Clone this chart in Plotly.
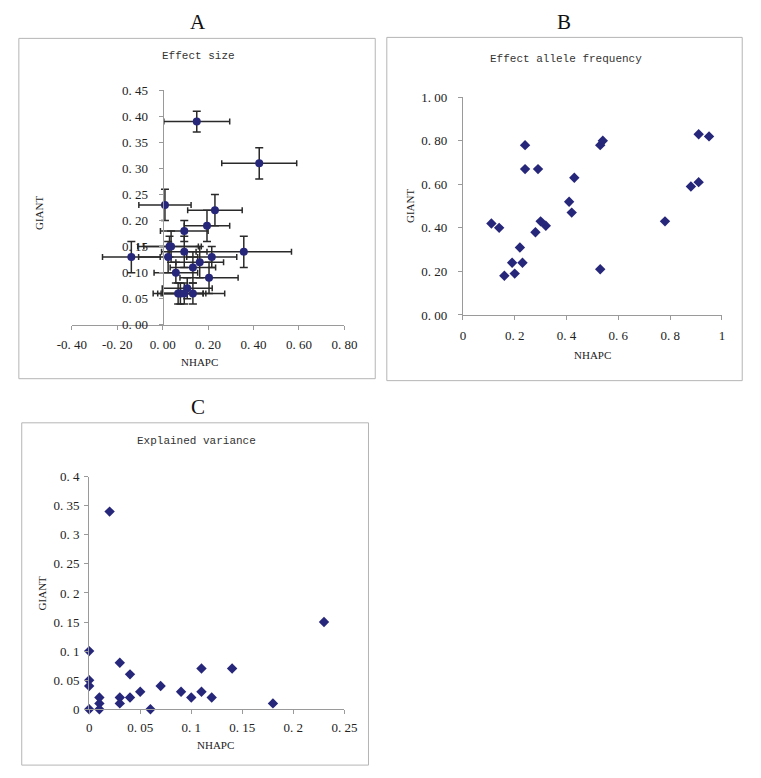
import plotly.graph_objects as go

# ---------------- Data ----------------
# Panel A: Effect size (with 95% CI error bars)
A_NHAPC = [0.15, 0.425, 0.01, 0.23, 0.195, 0.095, 0.03, 0.037, 0.095, 0.357, -0.138,
           0.024, 0.216, 0.163, 0.133, 0.058, 0.204, 0.108, 0.068, 0.078, 0.095, 0.133]
A_GIANT = [0.39, 0.31, 0.23, 0.22, 0.19, 0.18, 0.15, 0.15, 0.14, 0.14, 0.13,
           0.13, 0.13, 0.12, 0.11, 0.10, 0.09, 0.07, 0.06, 0.06, 0.06, 0.06]
A_NHAPC_ERR = [0.145, 0.165, 0.115, 0.12, 0.10, 0.105, 0.14, 0.12, 0.10, 0.21, 0.127,
               0.13, 0.11, 0.105, 0.10, 0.096, 0.128, 0.11, 0.11, 0.10, 0.095, 0.14]
A_GIANT_ERR = [0.02, 0.03, 0.03, 0.03, 0.03, 0.02, 0.02, 0.03, 0.03, 0.03, 0.03,
               0.03, 0.02, 0.03, 0.03, 0.02, 0.03, 0.02, 0.02, 0.02, 0.02, 0.02]

# Panel B: Effect allele frequency
B_NHAPC = [0.11, 0.14, 0.16, 0.19, 0.20, 0.22, 0.23, 0.24, 0.24, 0.28, 0.29, 0.30,
           0.32, 0.41, 0.42, 0.43, 0.53, 0.54, 0.53, 0.78, 0.88, 0.91, 0.91, 0.95]
B_GIANT = [0.42, 0.40, 0.18, 0.24, 0.19, 0.31, 0.24, 0.78, 0.67, 0.38, 0.67, 0.43,
           0.41, 0.52, 0.47, 0.63, 0.78, 0.80, 0.21, 0.43, 0.59, 0.61, 0.83, 0.82]

# Panel C: Explained variance
C_NHAPC = [0, 0, 0, 0, 0.01, 0.01, 0.01, 0.02, 0.03, 0.03, 0.03, 0.04,
           0.04, 0.05, 0.06, 0.07, 0.09, 0.10, 0.11, 0.11, 0.12, 0.14, 0.18, 0.23]
C_GIANT = [0.10, 0.05, 0.04, 0, 0.02, 0.01, 0, 0.34, 0.08, 0.02, 0.01, 0.06,
           0.02, 0.03, 0, 0.04, 0.03, 0.02, 0.07, 0.03, 0.02, 0.07, 0.01, 0.15]

# Tick values / labels
A_X_TICKS = [-0.4, -0.2, 0.0, 0.2, 0.4, 0.6, 0.8]
A_X_TICKTEXT = ["-0. 40", "-0. 20", "0. 00", "0. 20", "0. 40", "0. 60", "0. 80"]
A_Y_TICKS = [0.0, 0.05, 0.10, 0.15, 0.20, 0.25, 0.30, 0.35, 0.40, 0.45]
A_Y_TICKTEXT = ["0. 00", "0. 05", "0. 10", "0. 15", "0. 20", "0. 25", "0. 30", "0. 35", "0. 40", "0. 45"]
B_X_TICKS = [0, 0.2, 0.4, 0.6, 0.8, 1.0]
B_X_TICKTEXT = ["0", "0. 2", "0. 4", "0. 6", "0. 8", "1"]
B_Y_TICKS = [0, 0.2, 0.4, 0.6, 0.8, 1.0]
B_Y_TICKTEXT = ["0. 00", "0. 20", "0. 40", "0. 60", "0. 80", "1. 00"]
C_X_TICKS = [0, 0.05, 0.10, 0.15, 0.20, 0.25]
C_X_TICKTEXT = ["0", "0. 05", "0. 1", "0. 15", "0. 2", "0. 25"]
C_Y_TICKS = [0, 0.05, 0.10, 0.15, 0.20, 0.25, 0.30, 0.35, 0.40]
C_Y_TICKTEXT = ["0", "0. 05", "0. 1", "0. 15", "0. 2", "0. 25", "0. 3", "0. 35", "0. 4"]

# ---------------- Styling ----------------
W, H = 761, 778
MARKER = "#26267a"
ERRCOL = "#2a2a2a"
AXIS = "#9a9a9a"
TICKFONT = dict(family="Liberation Serif", size=13, color="#222")
LBLFONT = dict(family="Liberation Serif", size=11, color="#222")
TITLEFONT = dict(family="Liberation Mono", size=11, color="#333")


def px_x(p):
    return p / W


def px_y(p):
    return 1 - p / H


A_XDOM = [px_x(59), px_x(342)]
A_YDOM = [px_y(324), px_y(85)]
B_XDOM = [px_x(465), px_x(734)]
B_YDOM = [px_y(314), px_y(92)]
C_XDOM = [px_x(77), px_x(342)]
C_YDOM = [px_y(716), px_y(479)]

A_XRANGE = [-0.4, 0.8]
# Y axis of panel A crosses the x axis at NHAPC = 0
a_ypos = A_XDOM[0] + (0 - A_XRANGE[0]) / (A_XRANGE[1] - A_XRANGE[0]) * (A_XDOM[1] - A_XDOM[0])

fig = go.Figure()

fig.add_trace(go.Scatter(
    x=A_NHAPC, y=A_GIANT, mode="markers", xaxis="x", yaxis="y",
    marker=dict(symbol="circle", size=8, color=MARKER),
    error_x=dict(type="data", array=A_NHAPC_ERR, color=ERRCOL, thickness=1.5, width=3),
    error_y=dict(type="data", array=A_GIANT_ERR, color=ERRCOL, thickness=1.5, width=4),
    cliponaxis=False, showlegend=False, hoverinfo="x+y"))

fig.add_trace(go.Scatter(
    x=B_NHAPC, y=B_GIANT, mode="markers", xaxis="x2", yaxis="y2",
    marker=dict(symbol="diamond", size=8, color=MARKER),
    cliponaxis=False, showlegend=False))

fig.add_trace(go.Scatter(
    x=C_NHAPC, y=C_GIANT, mode="markers", xaxis="x3", yaxis="y3",
    marker=dict(symbol="diamond", size=8, color=MARKER),
    cliponaxis=False, showlegend=False))

common = dict(showgrid=False, zeroline=False, showline=True, linecolor=AXIS, linewidth=1,
              ticks="outside", ticklen=4, tickcolor=AXIS, tickfont=TICKFONT, fixedrange=True)

fig.update_layout(
    width=W, height=H, margin=dict(l=0, r=0, t=0, b=0),
    paper_bgcolor="white", plot_bgcolor="rgba(0,0,0,0)",
    xaxis=dict(domain=A_XDOM, range=A_XRANGE, anchor="y", tickvals=A_X_TICKS,
               ticktext=A_X_TICKTEXT, ticklabelstandoff=4, **common),
    yaxis=dict(domain=A_YDOM, range=[0, 0.45], anchor="free", position=a_ypos,
               tickvals=A_Y_TICKS, ticktext=A_Y_TICKTEXT, ticklabelstandoff=8, **common),
    xaxis2=dict(domain=B_XDOM, range=[0, 1], anchor="y2", tickvals=B_X_TICKS,
                ticktext=B_X_TICKTEXT, ticklabelstandoff=4, **common),
    yaxis2=dict(domain=B_YDOM, range=[0, 1], anchor="x2", tickvals=B_Y_TICKS,
                ticktext=B_Y_TICKTEXT, ticklabelstandoff=8, **common),
    xaxis3=dict(domain=C_XDOM, range=[0, 0.25], anchor="y3", tickvals=C_X_TICKS,
                ticktext=C_X_TICKTEXT, ticklabelstandoff=2, **common),
    yaxis3=dict(domain=C_YDOM, range=[0, 0.4], anchor="x3", tickvals=C_Y_TICKS,
                ticktext=C_Y_TICKTEXT, ticklabelstandoff=2, **common),
)

# Panel frames
for (x0, y0, x1, y1) in [(4, 32, 374, 379), (386, 31, 755, 381), (7, 424, 367, 773)]:
    fig.add_shape(type="rect", xref="paper", yref="paper",
                  x0=px_x(x0), x1=px_x(x1), y0=px_y(y1), y1=px_y(y0),
                  line=dict(color="#b5b5b5", width=1), fillcolor="rgba(0,0,0,0)", layer="below")

ann = []


def label(text, x, y, font, angle=0):
    ann.append(dict(text=text, x=px_x(x), y=px_y(y), xref="paper", yref="paper",
                    showarrow=False, font=font, textangle=angle,
                    xanchor="center", yanchor="middle"))


BIG = dict(family="Liberation Serif", size=21, color="#111")
label("A", 190, 15, BIG)
label("B", 570, 15, BIG)
label("C", 190, 408, BIG)

label("Effect size", 190, 50, TITLEFONT)
label("Effect allele frequency", 572, 53, TITLEFONT)
label("Explained variance", 188, 443, TITLEFONT)

label("GIANT", 25, 210, LBLFONT, -90)
label("GIANT", 410, 203, LBLFONT, -90)
label("GIANT", 29, 598, LBLFONT, -90)

label("NHAPC", 192, 362, LBLFONT)
label("NHAPC", 600, 355, LBLFONT)
label("NHAPC", 208, 752, LBLFONT)

fig.update_layout(annotations=ann)

fig.write_html("out.html", config={"displayModeBar": False},
               post_script="document.body.style.margin='0';document.body.style.overflow='hidden';")
